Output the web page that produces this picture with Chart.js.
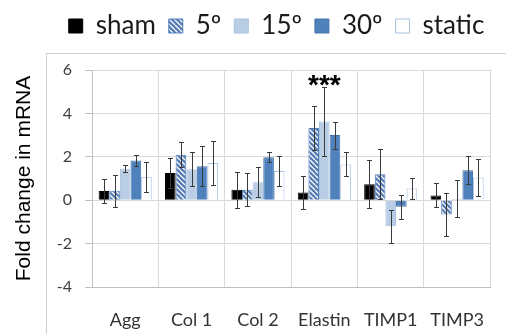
<!DOCTYPE html>
<html>
<head>
<meta charset="utf-8">
<script src="https://cdn.jsdelivr.net/npm/chart.js@4"></script>
<style>
  html, body { margin: 0; padding: 0; background: #fff; }
  #chart { display: block; }
</style>
</head>
<body>
<canvas id="chart" width="506" height="334"></canvas>
<script>
// mRNA fold change per gene, 5 loading groups, mean +/- error
const genes = ['Agg', 'Col 1', 'Col 2', 'Elastin', 'TIMP1', 'TIMP3'];
const groupNames = ['sham', '5º', '15º', '30º', 'static'];

const sham     = [0.42, 1.25, 0.48, 0.35, 0.74, 0.22];
const deg5     = [0.43, 2.10, 0.48, 3.33, 1.20, -0.66];
const deg15    = [1.45, 1.43, 0.83, 3.63, -1.20, 0.07];
const deg30    = [1.83, 1.57, 1.98, 3.00, -0.30, 1.38];
const staticLd = [1.08, 1.72, 1.35, 1.65, 0.54, 1.05];

const shamErr   = [0.55, 0.70, 0.82, 0.75, 1.10, 0.55];
const deg5Err   = [0.75, 0.57, 0.77, 1.00, 1.14, 0.98];
const deg15Err  = [0.16, 0.77, 0.68, 1.60, 0.75, 0.85];
const deg30Err  = [0.26, 0.93, 0.22, 0.62, 0.55, 0.65];
const staticErr = [0.68, 1.00, 0.69, 0.55, 0.47, 0.85];

const yTicks = [-4, -2, 0, 2, 4, 6];
const sigGene = 'Elastin';
const sigText = '***';

// hatch fill voor 5º (diagonal white stripes)
function hatch() {
  const c = document.createElement('canvas');
  c.width = 5; c.height = 5;
  const g = c.getContext('2d');
  g.fillStyle = '#5479b3';
  g.fillRect(0, 0, 5, 5);
  g.strokeStyle = '#ffffff';
  g.lineWidth = 1.3;
  g.beginPath();
  [-5, 0, 5].forEach(k => { g.moveTo(k, 0); g.lineTo(k + 5, 5); });
  g.stroke();
  return g.createPattern(c, 'repeat');
}

const errorBars = {
  id: 'errorBars',
  afterDatasetsDraw(chart) {
    const { ctx, scales: { y } } = chart;
    ctx.save();
    ctx.strokeStyle = '#3a3a3a';
    ctx.lineWidth = 1;
    chart.data.datasets.forEach((ds, i) => {
      chart.getDatasetMeta(i).data.forEach((bar, j) => {
        const v = ds.data[j], e = ds.errors[j];
        const x = Math.round(bar.x) + 0.5;
        const t = Math.round(y.getPixelForValue(v + e)) + 0.5;
        const b = Math.round(y.getPixelForValue(v - e)) + 0.5;
        ctx.beginPath();
        ctx.moveTo(x, t); ctx.lineTo(x, b);
        ctx.moveTo(x - 2.5, t); ctx.lineTo(x + 2.5, t);
        ctx.moveTo(x - 2.5, b); ctx.lineTo(x + 2.5, b);
        ctx.stroke();
      });
    });
    ctx.restore();
  }
};

const sigMark = {
  id: 'sigMark',
  afterDatasetsDraw(chart) {
    const { ctx, scales: { x, y } } = chart;
    const idx = genes.indexOf(sigGene);
    const top = Math.max(...chart.data.datasets.map(ds => ds.data[idx] + ds.errors[idx]));
    ctx.save();
    ctx.font = 'bold 28px "Liberation Sans", Arial, sans-serif';
    ctx.fillStyle = '#000';
    ctx.textAlign = 'center';
    ctx.textBaseline = 'alphabetic';
    ctx.fillText(sigText, x.getPixelForValue(idx), y.getPixelForValue(top) + 7);
    ctx.restore();
  }
};

// thin frame lines left/top of the figure
const frame = {
  id: 'frame',
  beforeDraw(chart) {
    const ctx = chart.ctx;
    ctx.save();
    ctx.strokeStyle = '#cfcfcf';
    ctx.lineWidth = 1;
    ctx.beginPath();
    ctx.moveTo(46.5, 334); ctx.lineTo(46.5, 53.5); ctx.lineTo(506, 53.5);
    ctx.stroke();
    ctx.restore();
  }
};

// extra room between legend and plot
const legendGap = {
  id: 'legendGap',
  beforeInit(chart) {
    const fit = chart.legend.fit;
    chart.legend.fit = function () {
      fit.call(this);
      this.height = 70;
    };
  }
};

const fills = ['#000000', hatch(), '#b9cde5', '#4f81bd', '#ffffff'];
const borders = ['#000000', '#4f81bd', '#a8c1e0', '#4775ad', '#a9c2e2'];
const values = [sham, deg5, deg15, deg30, staticLd];
const errs = [shamErr, deg5Err, deg15Err, deg30Err, staticErr];

new Chart(document.getElementById('chart'), {
  type: 'bar',
  data: {
    labels: genes,
    datasets: groupNames.map((name, i) => ({
      label: name,
      data: values[i],
      errors: errs[i],
      backgroundColor: fills[i],
      borderColor: borders[i],
      borderWidth: 1,
      categoryPercentage: 0.8,
      barPercentage: 1
    }))
  },
  options: {
    responsive: false,
    animation: false,
    layout: { padding: { left: 48, right: 1, top: 0, bottom: 0 } },
    plugins: {
      legend: {
        position: 'top',
        labels: {
          boxWidth: 14,
          boxHeight: 14,
          padding: 13,
          color: '#1a1a1a',
          font: { family: 'Lato', size: 26 }
        }
      },
      tooltip: { enabled: false }
    },
    scales: {
      x: {
        grid: { color: '#d9d9d9', drawTicks: false, offset: true },
        border: { color: '#bfbfbf' },
        ticks: { color: '#333333', padding: 22, font: { family: 'Lato', size: 18 } },
        afterFit(s) { s.height = 47; }
      },
      y: {
        min: yTicks[0],
        max: yTicks[yTicks.length - 1],
        afterBuildTicks(s) { s.ticks = yTicks.map(v => ({ value: v })); },
        grid: { color: '#d9d9d9', tickColor: '#bfbfbf', tickLength: 7 },
        border: { color: '#bfbfbf' },
        ticks: { color: '#404040', padding: 13, font: { family: 'Lato', size: 16 } },
        title: {
          display: true,
          text: 'Fold change in mRNA',
          color: '#000000',
          padding: { top: -36 },
          font: { family: '"Liberation Sans", Arial, sans-serif', size: 21 }
        },
        afterFit(s) { s.width = 44; }
      }
    }
  },
  plugins: [legendGap, errorBars, sigMark, frame]
});
</script>
</body>
</html>
